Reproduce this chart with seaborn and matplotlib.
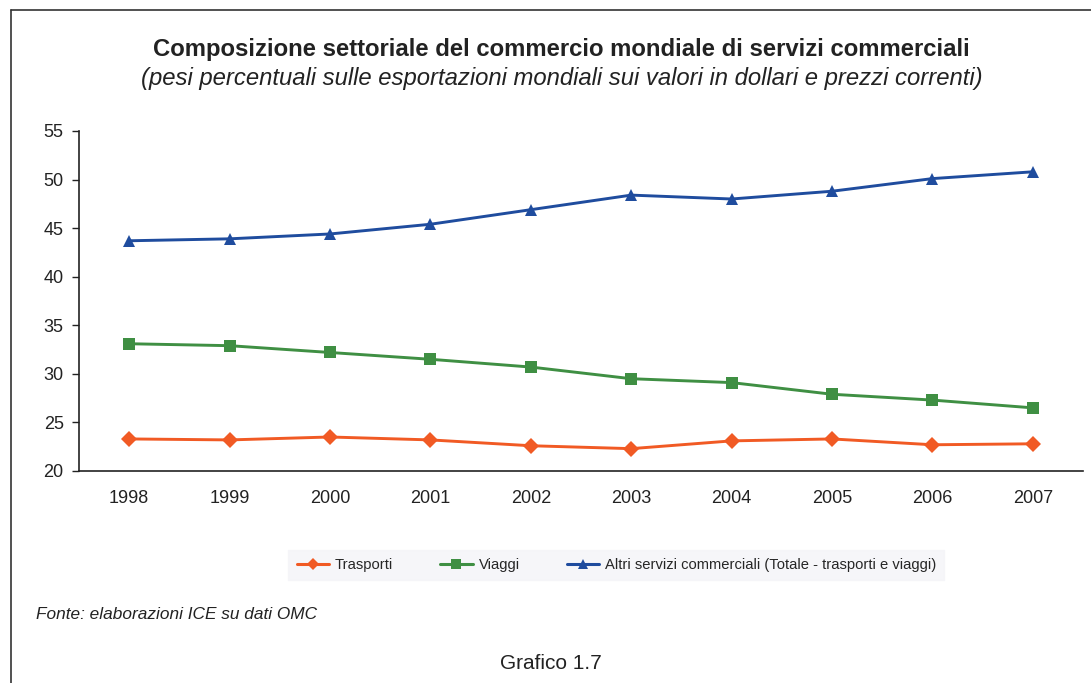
import numpy as np
import pandas as pd
import matplotlib
matplotlib.use("Agg")
import matplotlib.pyplot as plt
import seaborn as sns
from matplotlib.lines import Line2D

years = ["1998", "1999", "2000", "2001", "2002", "2003", "2004", "2005", "2006", "2007"]
trasporti = [23.3, 23.2, 23.5, 23.2, 22.6, 22.3, 23.1, 23.3, 22.7, 22.8]
viaggi = [33.1, 32.9, 32.2, 31.5, 30.7, 29.5, 29.1, 27.9, 27.3, 26.5]
altri = [43.7, 43.9, 44.4, 45.4, 46.9, 48.4, 48.0, 48.8, 50.1, 50.8]
series_names = ["Trasporti", "Viaggi", "Altri servizi commerciali (Totale - trasporti e viaggi)"]

colors = ["#F15A24", "#3F8F43", "#1F4C9E"]
markers = ["D", "s", "^"]

df = pd.DataFrame({
    "anno": list(range(len(years))) * 3,
    "valore": trasporti + viaggi + altri,
    "serie": np.repeat(series_names, len(years)),
})

sns.set_style("white")
plt.rcParams["font.family"] = ["Liberation Sans", "DejaVu Sans"]

fig = plt.figure(figsize=(10.91, 6.83), dpi=100)
ax = fig.add_axes([0.0724, 0.3104, 0.9203, 0.4978])

sns.lineplot(data=df, x="anno", y="valore", hue="serie", style="serie",
             palette=colors, markers=markers, dashes=False, linewidth=2.1,
             markersize=8.5, markeredgewidth=0, legend=False, ax=ax)

ax.set_xlim(-0.5, len(years) - 0.5)
ax.set_ylim(20, 55)
ax.set_yticks(range(20, 56, 5))
ax.set_xticks(range(len(years)))
ax.set_xticklabels(years)
ax.set_xticks(np.arange(-0.5, len(years)), minor=True)
ax.tick_params(axis="x", which="major", length=0, labelsize=13, pad=14, colors="#222222")
ax.tick_params(axis="x", which="minor", length=6, width=1, color="#222222", direction="out")
ax.tick_params(axis="y", length=5, width=1, color="#222222", direction="out", labelsize=13, pad=6,
               labelcolor="#222222", left=True)
ax.set_xlabel("")
ax.set_ylabel("")
for s in ["top", "right"]:
    ax.spines[s].set_visible(False)
for s in ["left", "bottom"]:
    ax.spines[s].set_color("#222222")
    ax.spines[s].set_linewidth(1.2)

fig.text(0.515, 0.928, "Composizione settoriale del commercio mondiale di servizi commerciali",
         ha="center", va="center", fontsize=17.2, fontweight="bold", color="#222222")
fig.text(0.515, 0.885, "(pesi percentuali sulle esportazioni mondiali sui valori in dollari e prezzi correnti)",
         ha="center", va="center", fontsize=17.2, style="italic", color="#222222")

handles = [Line2D([0], [0], color=c, marker=m, markersize=6.5, linewidth=2.2, markeredgewidth=0)
           for c, m in zip(colors, markers)]
leg = fig.legend(handles, series_names, loc="center", bbox_to_anchor=(0.565, 0.1728), ncol=3,
                 frameon=True, fontsize=10.6, handlelength=2.2, handletextpad=0.4, columnspacing=3.2,
                 borderpad=0.55, borderaxespad=0, fancybox=False)
leg.get_frame().set_facecolor("#F4F4F8")
leg.get_frame().set_edgecolor("#F4F4F8")

fig.text(0.033, 0.101, "Fonte: elaborazioni ICE su dati OMC", ha="left", va="center",
         fontsize=12.4, style="italic", color="#222222")
fig.text(0.5045, 0.029, "Grafico 1.7", ha="center", va="center", fontsize=15, color="#222222")

# cornice (solo lati sinistro e superiore visibili)
fig.add_artist(Line2D([0.0105, 0.0105], [0.0, 0.985], color="#333333", linewidth=1.2, transform=fig.transFigure))
fig.add_artist(Line2D([0.0105, 1.0], [0.985, 0.985], color="#333333", linewidth=1.2, transform=fig.transFigure))

fig.savefig("out.png", dpi=100)
